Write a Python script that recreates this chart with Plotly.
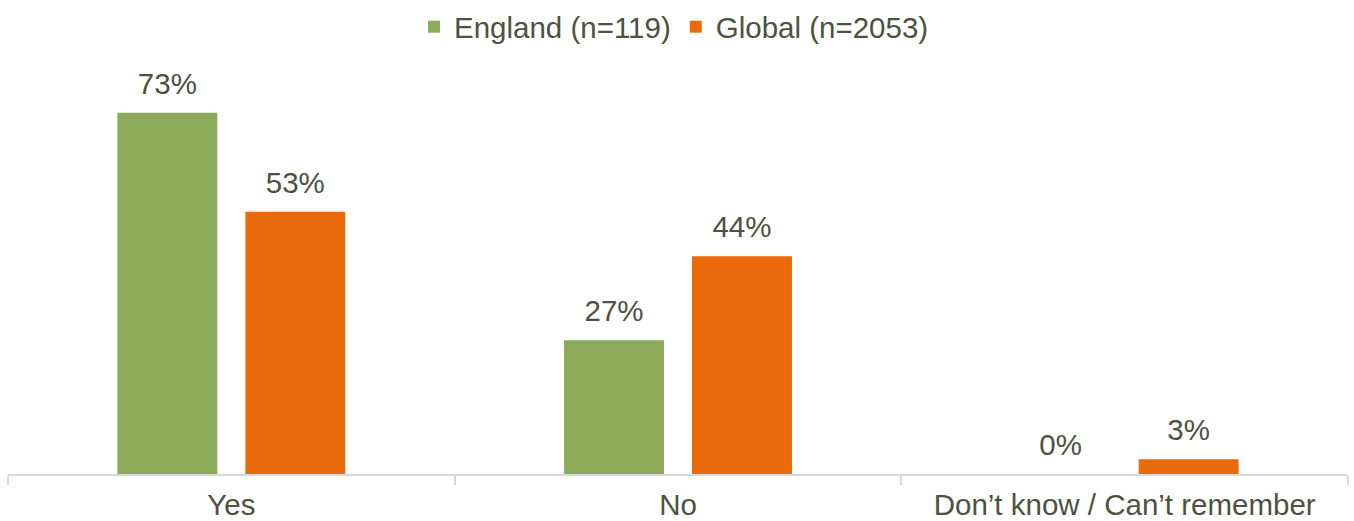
import plotly.graph_objects as go

categories = ["Yes", "No", "Don’t know / Can’t remember"]
series_names = ["England (n=119)", "Global (n=2053)"]
england = [73, 27, 0]
global_vals = [53, 44, 3]
colors = ["#8CAB5A", "#EB6A0A"]
text_color = "#4D5240"
font_family = "Liberation Sans, Arial, sans-serif"
fs = 29.5

W, H = 1354, 521
ml, mr, mt, mb = 8, 6, 78, 47
bargap = 0.427
bargroupgap = 0.219

fig = go.Figure()
for name, vals, col in zip(series_names, [england, global_vals], colors):
    fig.add_trace(go.Bar(
        x=categories, y=vals, name=name, marker=dict(color=col, line=dict(width=0)),
        offsetgroup=name, hoverinfo="skip",
    ))
for name, vals in zip(series_names, [england, global_vals]):
    fig.add_trace(go.Scatter(
        x=categories, y=vals, mode="markers+text", offsetgroup=name,
        text=[f"{v}%" for v in vals], textposition="top center",
        textfont=dict(size=fs, color=text_color, family=font_family),
        marker=dict(size=17, opacity=0), showlegend=False, hoverinfo="skip",
        cliponaxis=False,
    ))

fig.update_layout(
    width=W, height=H,
    margin=dict(l=ml, r=mr, t=mt, b=mb, pad=0, autoexpand=False),
    paper_bgcolor="white", plot_bgcolor="white",
    barmode="group", bargap=bargap, bargroupgap=bargroupgap,
    scattermode="group", scattergap=bargap,
    font=dict(family=font_family, size=fs, color=text_color),
    showlegend=True,
    legend=dict(orientation="h", x=0.497, xanchor="center", y=1 - 27 / H, yanchor="middle",
                yref="container", font=dict(size=fs, color=text_color), itemwidth=30,
                traceorder="normal"),
    xaxis=dict(
        showline=True, linecolor="#D9D9D9", linewidth=1.5, automargin=False,
        ticks="outside", tickson="boundaries", ticklen=9, tickcolor="#D9D9D9", tickwidth=1.5,
        showgrid=False, tickfont=dict(size=fs, color=text_color), ticklabelstandoff=4,
        fixedrange=True,
    ),
    yaxis=dict(range=[0, 80], visible=False, showgrid=False, zeroline=False, fixedrange=True,
               automargin=False),
)

fig.write_html("out.html", config={"displayModeBar": False},
               post_script="document.body.style.margin='0';")
